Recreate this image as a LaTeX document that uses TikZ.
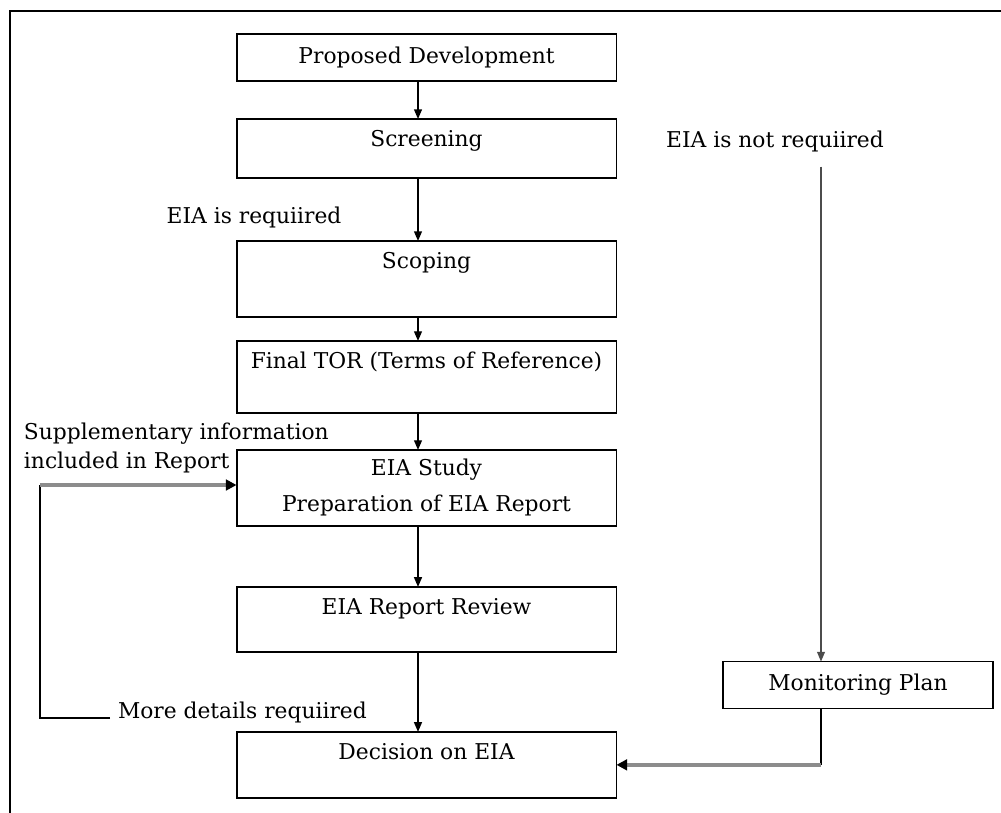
\documentclass[tikz,border=0pt]{standalone}
\usepackage{fontspec}
\setmainfont{DejaVu Serif}
\usetikzlibrary{positioning,arrows.meta,calc}

\begin{document}
\begin{tikzpicture}
		[x=0.02cm, y=-0.02cm,
		font=\fontsize{12.4}{16}\selectfont,
		every node/.style={inner sep=0pt, outer sep=0pt},
		stage/.style={draw, line width=1.1pt, minimum width=7.6cm, align=center},
		topstage/.style={stage, text height=0.55cm, text depth=#1},
		link/.style={line width=0.8pt},
		flow/.style={link, -{Triangle[length=5.5pt,width=4.5pt]}},
		back/.style={line width=2.4pt, draw=black!45,
			-{Triangle[length=6pt,width=6pt,color=black]}},
		]
		\useasboundingbox (0,0) rectangle (1001,812);
		% outer frame
		\draw[line width=1pt] (10,830) -- (10,11) -- (1020,11);
		
		\coordinate (spine) at (418,0);
		\coordinate (rspine) at (821,0);
		
		\node[stage, minimum height=0.94cm, anchor=north] (dev) at (426.5,34) {Proposed Development};
		\node[topstage=0.63cm, below=0.76cm of dev] (scr) {Screening};
		\node[topstage=0.97cm, below=1.26cm of scr] (scp) {Scoping};
		\node[topstage=0.89cm, below=0.48cm of scp] (tor) {Final TOR (Terms of Reference)};
		\node[stage, minimum height=1.52cm, below=0.74cm of tor,
			font=\fontsize{12.4}{20.5}\selectfont] (study) {EIA Study\\Preparation of EIA Report};
		\node[topstage=0.75cm, below=1.22cm of study] (rev) {EIA Report Review};
		\node[topstage=0.77cm, below=1.6cm of rev] (dec) {Decision on EIA};
		\node[draw, line width=1.1pt, minimum width=5.4cm, minimum height=0.94cm] (mon) at (858,685) {Monitoring Plan};
		
		\node (req) at (254,217) {EIA is requiired};
		\node (nreq) at (775,141) {EIA is not requiired};
		\node[align=left, anchor=west] (supp) at (24,448) {Supplementary information\\included in Report};
		\node[anchor=base west] (more) at (118,718) {More details requiired};
		
		\draw[flow] (dev.south -| spine) -- (scr.north -| spine);
		\draw[flow] (scr.south -| spine) -- (scp.north -| spine);
		\draw[flow] (scp.south -| spine) -- (tor.north -| spine);
		\draw[flow] (tor.south -| spine) -- (study.north -| spine);
		\draw[flow] (study.south -| spine) -- (rev.north -| spine);
		\draw[flow] (rev.south -| spine) -- (dec.north -| spine);
		
		% loop back for more details
		\coordinate (fb) at (40,485);
		\draw[link] ([xshift=-0.16cm]more.base west) -| (fb);
		\draw[back] (fb) -- (study.west |- fb);
		
		% EIA not required
		\draw[flow, draw=black!70, line width=0.6pt, shorten <=0.3cm] (nreq.south -| rspine) -- (mon.north -| rspine);
		\draw[link] (mon.south -| rspine) -- (rspine |- dec.east);
		\draw[back] (rspine |- dec.east) -- (dec.east);
		
	\end{tikzpicture}
\end{document}
